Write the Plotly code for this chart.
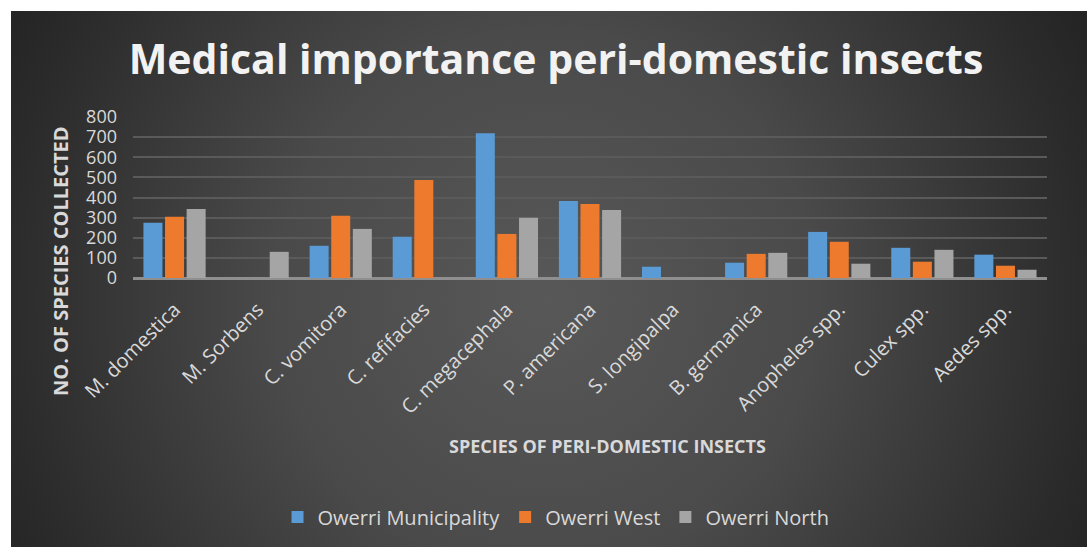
import base64
import plotly.graph_objects as go

categories = ["M. domestica", "M. Sorbens", "C. vomitora", "C. refifacies", "C. megacephala",
              "P. americana", "S. longipalpa", "B. germanica", "Anopheles spp.", "Culex spp.", "Aedes spp."]
owerri_municipality = [274, 0, 160, 205, 719, 383, 56, 76, 229, 150, 116]
owerri_west = [304, 0, 309, 487, 219, 368, 0, 120, 180, 81, 61]
owerri_north = [343, 130, 244, 0, 299, 338, 0, 125, 71, 140, 41]
series_names = ["Owerri Municipality", "Owerri West", "Owerri North"]
series_colors = ["#5b9bd5", "#ee7a2e", "#a5a5a5"]
y_ticks = [0, 100, 200, 300, 400, 500, 600, 700, 800]

W, H = 1092, 550
ML, MR, MT, MB = 133, 45, 117, 272
PW, PH = W - ML - MR, H - MT - MB


def px_x(px):
    return (px - ML) / PW


def px_y(py):
    return (H - MB - py) / PH


svg = (
    "<svg xmlns='http://www.w3.org/2000/svg' width='1076' height='536' viewBox='0 0 1076 536' "
    "preserveAspectRatio='none'><defs><radialGradient id='g' gradientUnits='userSpaceOnUse' "
    "cx='535' cy='290' r='600'>"
    "<stop offset='0' stop-color='#585858'/><stop offset='0.45' stop-color='#4a4a4a'/>"
    "<stop offset='0.9' stop-color='#2b2b2b'/><stop offset='1' stop-color='#252525'/>"
    "</radialGradient></defs><rect width='1076' height='536' fill='url(#g)'/></svg>"
)
svg_uri = "data:image/svg+xml;base64," + base64.b64encode(svg.encode()).decode()

fig = go.Figure()
for name, vals, col in zip(series_names, [owerri_municipality, owerri_west, owerri_north], series_colors):
    fig.add_trace(go.Bar(x=categories, y=vals, name=name, marker=dict(color=col, line=dict(width=0))))

bg_left, bg_top, bg_right, bg_bottom = 11, 11, 1087, 547
fig.add_layout_image(dict(
    source=svg_uri, xref="paper", yref="paper",
    x=px_x(bg_left), y=px_y(bg_top),
    sizex=(bg_right - bg_left) / PW, sizey=(bg_bottom - bg_top) / PH,
    xanchor="left", yanchor="top", sizing="stretch", layer="below",
))

fig.update_layout(
    width=W, height=H,
    margin=dict(l=ML, r=MR, t=MT, b=MB, pad=0),
    paper_bgcolor="white",
    plot_bgcolor="rgba(0,0,0,0)",
    barmode="group", bargap=0.22, bargroupgap=0.12,
    font=dict(family="Open Sans", color="#d9d9d9"),
    title=dict(text="<b>Medical importance peri-domestic insects</b>",
               font=dict(family="Open Sans", size=41, color="#f2f2f2"),
               xref="container", x=556 / W, xanchor="center",
               yref="container", y=1 - 60 / H, yanchor="middle"),
    showlegend=True,
    legend=dict(orientation="h", xref="container", yref="container",
                x=556 / W, xanchor="center", y=1 - 517 / H, yanchor="middle",
                bgcolor="rgba(0,0,0,0)", font=dict(family="Open Sans", size=20, color="#d9d9d9"),
                itemwidth=30, traceorder="normal"),
    xaxis=dict(tickangle=-45, tickfont=dict(family="Open Sans", size=20, color="#d9d9d9"),
               showgrid=False, showline=False, zeroline=False, ticks="", ticklabelstandoff=15),
    yaxis=dict(range=[0, 800], tickvals=y_ticks, ticktext=[str(v) for v in y_ticks],
               tickfont=dict(family="Open Sans", size=18, color="#d9d9d9"),
               showgrid=True, gridcolor="#5a5a5a", gridwidth=2,
               zeroline=True, zerolinecolor="#8f8f8f", zerolinewidth=3,
               showline=False, ticks="", ticklabelstandoff=15),
    annotations=[
        dict(text="<b>NO. OF SPECIES COLLECTED</b>", xref="paper", yref="paper",
             x=px_x(60), y=px_y(261), xanchor="center", yanchor="middle", textangle=-90,
             showarrow=False, font=dict(family="Open Sans", size=20, color="#d9d9d9")),
        dict(text="<b>SPECIES OF PERI-DOMESTIC INSECTS</b>", xref="paper", yref="paper",
             x=px_x(607), y=px_y(446), xanchor="center", yanchor="middle",
             showarrow=False, font=dict(family="Open Sans", size=18, color="#d9d9d9")),
    ],
)

fig.write_html("out.html")
